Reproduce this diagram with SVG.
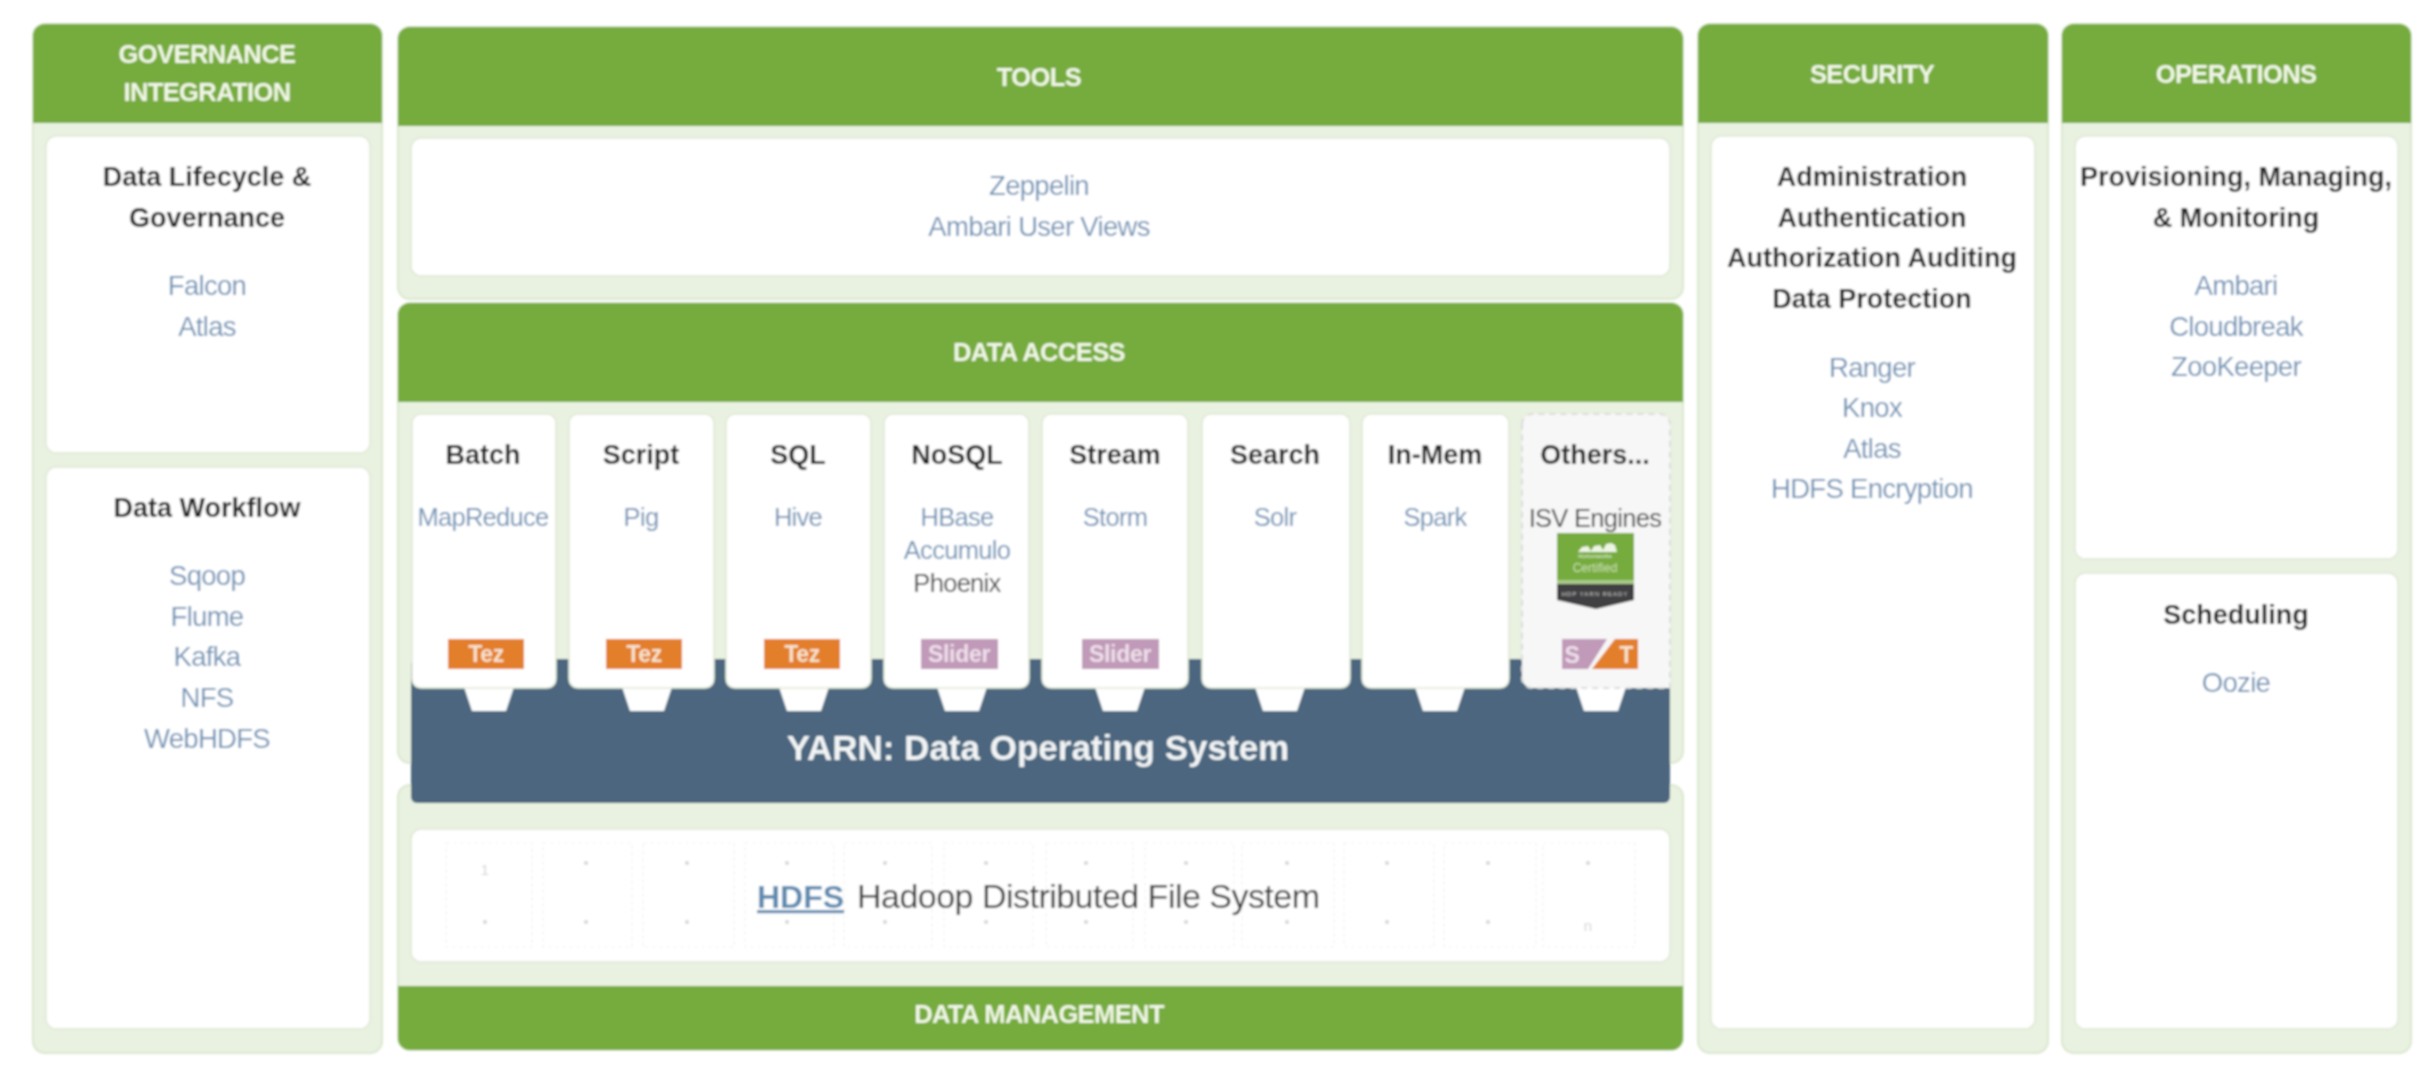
<svg xmlns="http://www.w3.org/2000/svg" width="2436" height="1072" viewBox="0 0 2436 1072">
<style>
text{font-family:"Liberation Sans",Arial,sans-serif;text-anchor:middle}
.panel{fill:#e9f1e1;stroke:#dbe8cf;stroke-width:2}
.hdr{fill:#76ab3e}
.card{fill:#fff;stroke:#dfe9d5;stroke-width:1.5}
.h{font-size:25.5px;font-weight:700;fill:#f1f7e6;letter-spacing:-.6px}
.t{font-size:27px;font-weight:700;fill:#262626}
.s{font-size:27.5px;fill:#7394b6;letter-spacing:-.7px}
.c{font-size:25.5px;fill:#7394b6;letter-spacing:-.7px}
.g{font-size:25.5px;fill:#4a4a4a;letter-spacing:-.7px}
.tag{font-size:23px;font-weight:700;fill:#f7e3cc;letter-spacing:-.3px}
.tagS{font-size:23px;font-weight:700;fill:#eedfea;letter-spacing:-.3px}
.tez{fill:#e37e2c}
.sli{fill:#c09ab8}
.cell{fill:none;stroke:#f3f3f3;stroke-width:1.2;stroke-dasharray:4 3}
.dot{fill:#d4d4d4}
</style>
<defs><filter id="soft" x="-2%" y="-2%" width="104%" height="104%"><feGaussianBlur stdDeviation="0.8"/></filter></defs>
<rect width="2436" height="1072" fill="#fff"/>
<g filter="url(#soft)">
<g id="governance">
<rect class="panel" x="33" y="24" width="349" height="1029" rx="12"/>
<path class="hdr" d="M33 123V36a12 12 0 0 1 12-12H370a12 12 0 0 1 12 12V123Z"/>
<text class="h" x="207" y="63">GOVERNANCE</text><text class="h" x="207" y="101">INTEGRATION</text>
<rect class="card" x="46" y="136" width="324" height="317" rx="10"/>
<text class="t" x="207" y="186">Data Lifecycle &amp;</text><text class="t" x="207" y="227">Governance</text>
<text class="s" x="207" y="295">Falcon</text><text class="s" x="207" y="336">Atlas</text>
<rect class="card" x="46" y="467" width="324" height="562" rx="10"/>
<text class="t" x="207" y="517">Data Workflow</text>
<text class="s" x="207" y="585">Sqoop</text><text class="s" x="207" y="626">Flume</text><text class="s" x="207" y="666">Kafka</text><text class="s" x="207" y="707">NFS</text><text class="s" x="207" y="748">WebHDFS</text>
</g>
<g id="tools">
<rect class="panel" x="398" y="27" width="1285" height="272" rx="12"/>
<path class="hdr" d="M398 126V39a12 12 0 0 1 12-12H1671a12 12 0 0 1 12 12V126Z"/>
<text class="h" x="1039" y="86">TOOLS</text>
<rect class="card" x="411" y="138" width="1259" height="138" rx="10"/>
<text class="s" x="1039" y="195">Zeppelin</text><text class="s" x="1039" y="236">Ambari User Views</text>
</g>
<g id="data-access">
<rect class="panel" x="398" y="303" width="1285" height="460" rx="12"/>
<path class="hdr" d="M398 402V315a12 12 0 0 1 12-12H1671a12 12 0 0 1 12 12V402Z"/>
<text class="h" x="1039" y="361">DATA ACCESS</text>
</g>
<g id="data-management">
<rect class="panel" x="398" y="785" width="1285" height="265" rx="12"/>
<path class="hdr" d="M398 986H1683V1038a12 12 0 0 1-12 12H410a12 12 0 0 1-12-12Z"/>
<text class="h" x="1039" y="1023">DATA MANAGEMENT</text>
<rect class="card" x="411" y="829" width="1259" height="133" rx="10"/>
<g id="hdfs-grid">
<rect class="cell" x="446" y="843" width="86" height="104"/><rect class="cell" x="543" y="843" width="89" height="104"/><rect class="cell" x="643" y="843" width="91" height="104"/><rect class="cell" x="745" y="843" width="89" height="104"/><rect class="cell" x="844" y="843" width="88" height="104"/><rect class="cell" x="944" y="843" width="89" height="104"/><rect class="cell" x="1046" y="843" width="87" height="104"/><rect class="cell" x="1145" y="843" width="89" height="104"/><rect class="cell" x="1242" y="843" width="92" height="104"/><rect class="cell" x="1344" y="843" width="90" height="104"/><rect class="cell" x="1444" y="843" width="92" height="104"/><rect class="cell" x="1543" y="843" width="92" height="104"/>
<text x="485" y="875" font-size="15" fill="#d4d4d4">1</text>
<circle class="dot" cx="586" cy="863" r="2"/><circle class="dot" cx="687" cy="863" r="2"/><circle class="dot" cx="787" cy="863" r="2"/><circle class="dot" cx="885" cy="863" r="2"/><circle class="dot" cx="986" cy="863" r="2"/><circle class="dot" cx="1086" cy="863" r="2"/><circle class="dot" cx="1186" cy="863" r="2"/><circle class="dot" cx="1287" cy="863" r="2"/><circle class="dot" cx="1387" cy="863" r="2"/><circle class="dot" cx="1488" cy="863" r="2"/><circle class="dot" cx="1588" cy="863" r="2"/>
<circle class="dot" cx="485" cy="922" r="2"/><circle class="dot" cx="586" cy="922" r="2"/><circle class="dot" cx="687" cy="922" r="2"/><circle class="dot" cx="787" cy="922" r="2"/><circle class="dot" cx="885" cy="922" r="2"/><circle class="dot" cx="986" cy="922" r="2"/><circle class="dot" cx="1086" cy="922" r="2"/><circle class="dot" cx="1186" cy="922" r="2"/><circle class="dot" cx="1287" cy="922" r="2"/><circle class="dot" cx="1387" cy="922" r="2"/><circle class="dot" cx="1488" cy="922" r="2"/>
<text x="1588" y="931" font-size="15" fill="#d4d4d4">n</text>
</g>
<text x="757" y="908" font-size="32" font-weight="700" fill="#5f8bb0" text-decoration="underline" style="text-anchor:start">HDFS</text>
<text x="857" y="908" font-size="34" fill="#3d3d3d" style="text-anchor:start" textLength="463">Hadoop Distributed File System</text>
</g>
<g id="yarn">
<rect x="411" y="659" width="1259" height="144" rx="6" fill="#4b667e"/>
<text x="1038" y="760" font-size="35" font-weight="700" fill="#f2f4f5">YARN: Data Operating System</text>
</g>
<g id="connectors" fill="#fff">
<path d="M464 687H514L506 711H472Z"/><path d="M622 687H672L664 711H630Z"/><path d="M779 687H829L821 711H787Z"/><path d="M937 687H987L979 711H945Z"/><path d="M1095 687H1145L1137 711H1103Z"/><path d="M1255 687H1305L1297 711H1263Z"/><path d="M1415 687H1465L1457 711H1423Z"/><path d="M1576 687H1626L1618 711H1584Z"/>
</g>
<g id="batch"><rect class="card" x="412" y="414" width="144" height="274" rx="9"/><text class="t" x="483" y="464">Batch</text><text class="c" x="483" y="526">MapReduce</text><rect class="tez" x="448" y="639" width="76" height="30"/><text class="tag" x="486" y="662">Tez</text></g>
<g id="script"><rect class="card" x="569" y="414" width="145" height="274" rx="9"/><text class="t" x="641" y="464">Script</text><text class="c" x="641" y="526">Pig</text><rect class="tez" x="606" y="639" width="76" height="30"/><text class="tag" x="644" y="662">Tez</text></g>
<g id="sql"><rect class="card" x="726" y="414" width="145" height="274" rx="9"/><text class="t" x="798" y="464">SQL</text><text class="c" x="798" y="526">Hive</text><rect class="tez" x="764" y="639" width="76" height="30"/><text class="tag" x="802" y="662">Tez</text></g>
<g id="nosql"><rect class="card" x="884" y="414" width="145" height="274" rx="9"/><text class="t" x="957" y="464">NoSQL</text><text class="c" x="957" y="526">HBase</text><text class="c" x="957" y="559">Accumulo</text><text class="g" x="957" y="592">Phoenix</text><rect class="sli" x="921" y="639" width="77" height="30"/><text class="tagS" x="959" y="662">Slider</text></g>
<g id="stream"><rect class="card" x="1042" y="414" width="146" height="274" rx="9"/><text class="t" x="1115" y="464">Stream</text><text class="c" x="1115" y="526">Storm</text><rect class="sli" x="1082" y="639" width="77" height="30"/><text class="tagS" x="1120" y="662">Slider</text></g>
<g id="search"><rect class="card" x="1202" y="414" width="148" height="274" rx="9"/><text class="t" x="1275" y="464">Search</text><text class="c" x="1275" y="526">Solr</text></g>
<g id="in-mem"><rect class="card" x="1362" y="414" width="147" height="274" rx="9"/><text class="t" x="1435" y="464">In-Mem</text><text class="c" x="1435" y="526">Spark</text></g>
<g id="others"><path d="M1522 424a10 10 0 0 1 10-10H1660a10 10 0 0 1 10 10V688H1532a10 10 0 0 1-10-10Z" fill="#f7f7f7" stroke="#dcdcdc" stroke-width="2" stroke-dasharray="6 5"/>
<text class="t" x="1595" y="464">Others...</text>
<text class="g" x="1595" y="527">ISV Engines</text>
<path d="M1557 533H1634V580H1557Z" fill="#76ab3e"/><path d="M1557 580H1634V584H1557Z" fill="#a8c98a"/>
<path d="M1557 584H1634V600L1596 609L1557 600Z" fill="#3f3f42"/>
<path d="M1578 552l4-5 6-1 3 5 3-5 6-1 3 5 3-6 5-1 4 2 2 7Z" fill="#eef5e5"/>
<text x="1595" y="558" font-size="6" fill="#eef5e5">Hortonworks</text>
<text x="1595" y="572" font-size="12" fill="#c9e0ae">Certified</text>
<text x="1595" y="596" font-size="6" letter-spacing="1" fill="#cfcfcf">HDP YARN READY</text>
<path d="M1562 639H1607L1588 669H1562Z" fill="#c09ab8"/><path d="M1615 639H1638V669H1592Z" fill="#e37e2c"/>
<text class="tagS" x="1572" y="663">S</text><text class="tag" x="1626" y="663">T</text></g>
<g id="security">
<rect class="panel" x="1698" y="24" width="350" height="1029" rx="12"/>
<path class="hdr" d="M1698 123V36a12 12 0 0 1 12-12H2036a12 12 0 0 1 12 12V123Z"/>
<text class="h" x="1872" y="83">SECURITY</text>
<rect class="card" x="1711" y="136" width="324" height="893" rx="10"/>
<text class="t" x="1872" y="186">Administration</text><text class="t" x="1872" y="227">Authentication</text><text class="t" x="1872" y="267">Authorization Auditing</text><text class="t" x="1872" y="308">Data Protection</text>
<text class="s" x="1872" y="377">Ranger</text><text class="s" x="1872" y="417">Knox</text><text class="s" x="1872" y="458">Atlas</text><text class="s" x="1872" y="498">HDFS Encryption</text>
</g>
<g id="operations">
<rect class="panel" x="2062" y="24" width="349" height="1029" rx="12"/>
<path class="hdr" d="M2062 123V36a12 12 0 0 1 12-12H2399a12 12 0 0 1 12 12V123Z"/>
<text class="h" x="2236" y="83">OPERATIONS</text>
<rect class="card" x="2075" y="136" width="323" height="423" rx="10"/>
<text class="t" x="2236" y="186">Provisioning, Managing,</text><text class="t" x="2236" y="227">&amp; Monitoring</text>
<text class="s" x="2236" y="295">Ambari</text><text class="s" x="2236" y="336">Cloudbreak</text><text class="s" x="2236" y="376">ZooKeeper</text>
<rect class="card" x="2075" y="573" width="323" height="456" rx="10"/>
<text class="t" x="2236" y="624">Scheduling</text><text class="s" x="2236" y="692">Oozie</text>
</g>
</g>
</svg>
